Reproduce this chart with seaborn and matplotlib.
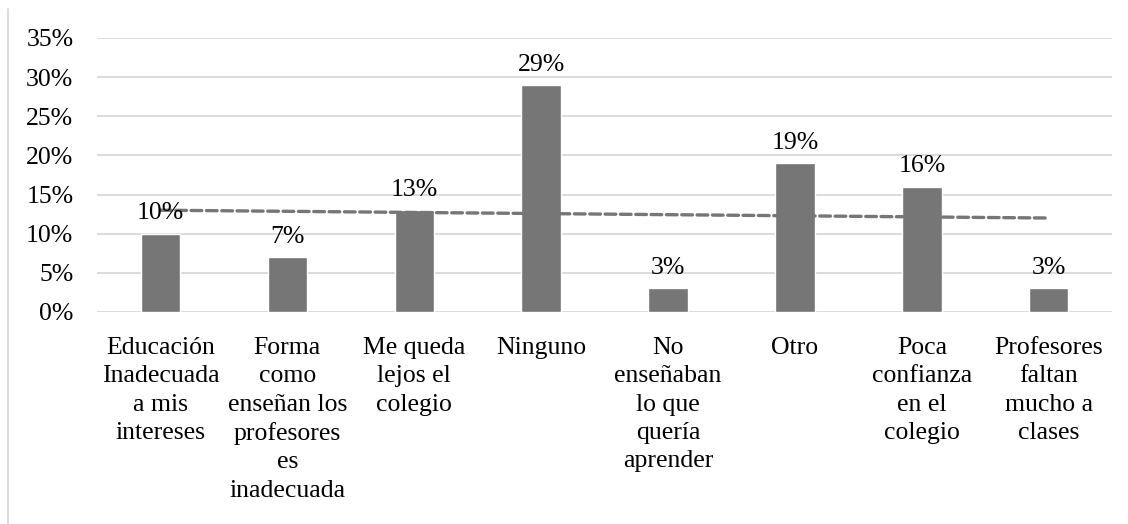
import matplotlib
matplotlib.use("Agg")
import matplotlib.pyplot as plt
import seaborn as sns
import numpy as np
import pandas as pd
from matplotlib.lines import Line2D

categories = [
    "Educación\nInadecuada\na mis\nintereses",
    "Forma\ncomo\nenseñan los\nprofesores\nes\ninadecuada",
    "Me queda\nlejos el\ncolegio",
    "Ninguno",
    "No\nenseñaban\nlo que\nquería\naprender",
    "Otro",
    "Poca\nconfianza\nen el\ncolegio",
    "Profesores\nfaltan\nmucho a\nclases",
]
values = [0.10, 0.07, 0.13, 0.29, 0.03, 0.19, 0.16, 0.03]
y_ticks = [0.00, 0.05, 0.10, 0.15, 0.20, 0.25, 0.30, 0.35]
y_tick_labels = ["0%", "5%", "10%", "15%", "20%", "25%", "30%", "35%"]

sns.set_theme(style="white")
plt.rcParams["font.family"] = ["Liberation Serif", "DejaVu Serif"]

df = pd.DataFrame({"cat": categories, "val": values})

fig = plt.figure(figsize=(11.28, 5.24), dpi=100)
ax = fig.add_axes([0.086, 0.4046, 0.9, 0.523])

bar_color = "#767676"
sns.barplot(data=df, x="cat", y="val", color=bar_color, width=0.31,
            saturation=1, ax=ax, zorder=2)

FS = 18.5
ax.set_ylim(0, 0.35)
ax.set_xlim(-0.5, len(categories) - 0.5)
ax.set_yticks(y_ticks)
ax.set_yticklabels(y_tick_labels)
ax.yaxis.grid(True, color="#d9d9d9", linewidth=1.3, zorder=0)
ax.set_axisbelow(True)
for s in ax.spines.values():
    s.set_visible(False)
ax.set_xlabel("")
ax.set_ylabel("")
ax.tick_params(axis="y", labelsize=FS, pad=17, length=0, colors="black")
ax.tick_params(axis="x", labelsize=FS, pad=18, length=0, colors="black")
for lab in ax.get_xticklabels():
    lab.set_linespacing(1.37)
    lab.set_verticalalignment("top")

# value labels
for i, v in enumerate(values):
    ax.text(i, v + 0.012, f"{round(v*100)}%", ha="center", va="bottom",
            fontsize=FS, color="black", zorder=4)

# linear trend line
xs = np.arange(len(values))
coef = np.polyfit(xs, values, 1)
trend = np.polyval(coef, xs)
ax.plot(xs, trend, color="#767676", linewidth=2.4, linestyle=(0, (3.2, 1.4)),
        dash_capstyle="round", zorder=3)

# left border line of the chart frame
fig.add_artist(Line2D([0.0075, 0.0075], [0.0, 0.982], color="#d9d9d9",
                      linewidth=1.3, transform=fig.transFigure))

fig.savefig("out.png", dpi=100, facecolor="white")
